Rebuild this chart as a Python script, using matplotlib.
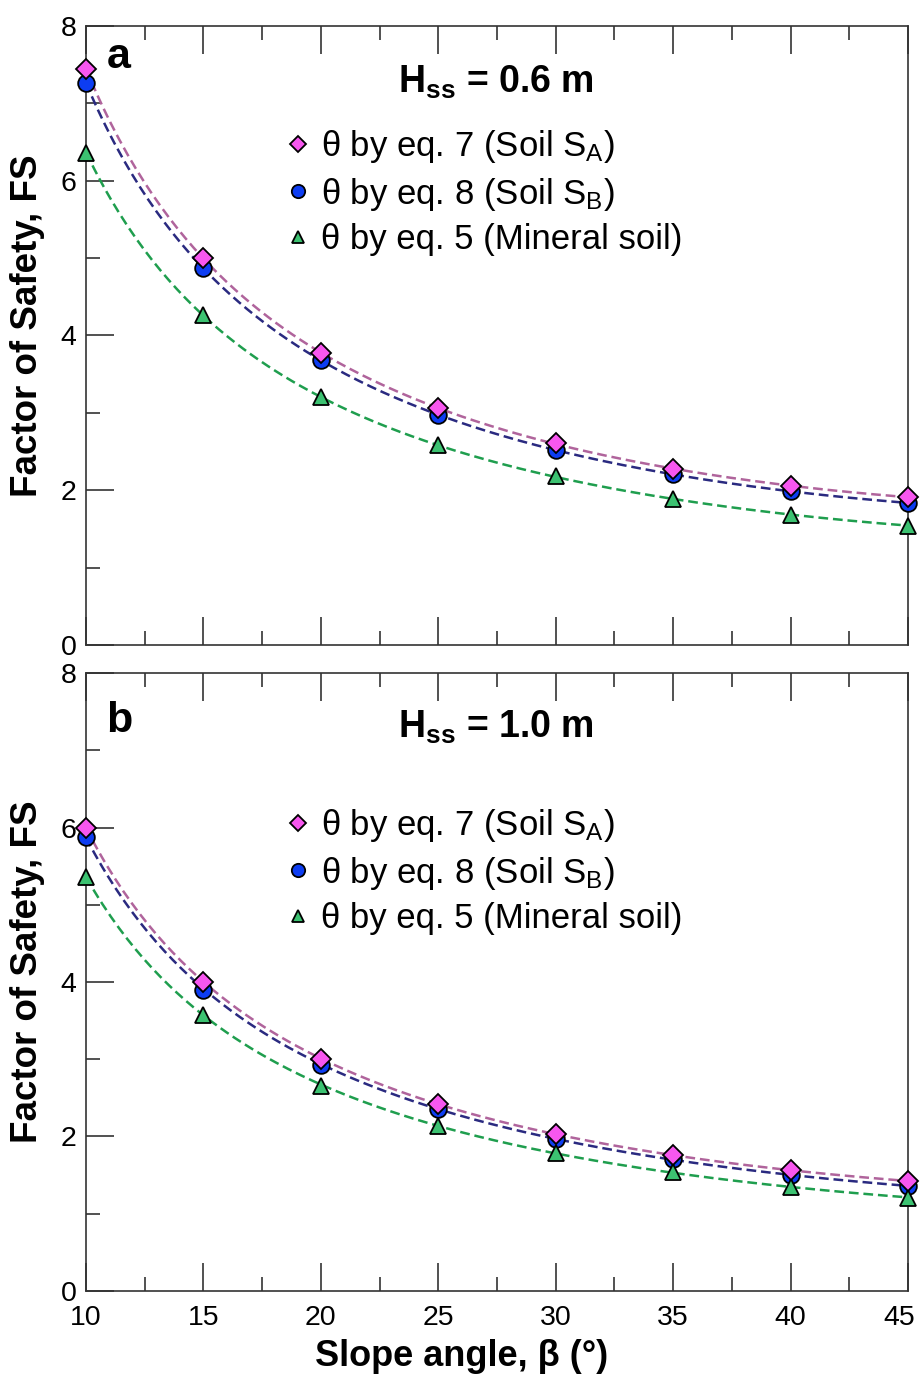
import numpy as np
import matplotlib
matplotlib.use("Agg")
import matplotlib.pyplot as plt
import matplotlib.transforms as mtransforms

plt.rcParams['font.family'] = ['Liberation Sans', 'DejaVu Sans']
plt.rcParams['mathtext.fontset'] = 'custom'
plt.rcParams['mathtext.rm'] = 'Liberation Sans'
plt.rcParams['mathtext.bf'] = 'Liberation Sans:bold'
plt.rcParams['mathtext.it'] = 'Liberation Sans:italic'
plt.rcParams['lines.scale_dashes'] = False

# slope angle (deg)
slope = [10, 15, 20, 25, 30, 35, 40, 45]

# panel a: Hss = 0.6 m
fs_a_sa = [7.44, 5.00, 3.78, 3.06, 2.61, 2.28, 2.05, 1.91]
fs_a_sb = [7.26, 4.87, 3.68, 2.97, 2.52, 2.21, 1.99, 1.83]
fs_a_min = [6.36, 4.26, 3.21, 2.58, 2.18, 1.89, 1.68, 1.54]

# panel b: Hss = 1.0 m
fs_b_sa = [6.00, 4.00, 3.00, 2.42, 2.03, 1.76, 1.57, 1.42]
fs_b_sb = [5.88, 3.90, 2.93, 2.35, 1.97, 1.71, 1.50, 1.36]
fs_b_min = [5.36, 3.57, 2.66, 2.14, 1.79, 1.54, 1.35, 1.20]

labels = [r"θ by eq. 7 (Soil S$_\mathregular{A}$)",
          r"θ by eq. 8 (Soil S$_\mathregular{B}$)",
          "θ by eq. 5 (Mineral soil)"]
panel_tags = ["a", "b"]
hss_labels = [r"H$_\mathbf{ss}$ = 0.6 m", r"H$_\mathbf{ss}$ = 1.0 m"]

line_cols = ['#b0649c', '#2a2a80', '#1f9e4e']
face_cols = ['#f757ef', '#0d3df2', '#3cc271']
markers = ['D', 'o', '^']
msizes = [10, 12, 11]
zs = [6, 4, 5]


def trend(x, y):
    # infinite-slope style trend: FS = a/tan(b) + c/sin(2b), least squares
    xr = np.radians(np.asarray(x, float))
    A = np.column_stack([1 / np.tan(xr), 1 / np.sin(2 * xr)])
    coef = np.linalg.lstsq(A, np.asarray(y), rcond=None)[0]
    xs = np.linspace(min(x), max(x), 200)
    xsr = np.radians(xs)
    return xs, coef[0] / np.tan(xsr) + coef[1] / np.sin(2 * xsr)


fig = plt.figure(figsize=(9.21, 13.8), dpi=100)
ax_a = fig.add_axes([0.0934, 0.5326, 0.8925, 0.4486])
ax_b = fig.add_axes([0.0934, 0.0645, 0.8925, 0.4478])

panels = [(ax_a, [fs_a_sa, fs_a_sb, fs_a_min]),
          (ax_b, [fs_b_sa, fs_b_sb, fs_b_min])]

tag_y = [0.932, 0.905]
hss_y = [0.892, 0.896]
leg_y = [0.835, 0.783]

for k, (ax, series) in enumerate(panels):
    handles = []
    for i, ys in enumerate(series):
        xs, yf = trend(slope, ys)
        ax.plot(xs, yf, color=line_cols[i], lw=1.8, dashes=(7, 3.5), zorder=2)
        h, = ax.plot(slope, ys, ls='none', marker=markers[i], ms=msizes[i],
                     mfc=face_cols[i], mec='black', mew=1.3, clip_on=False,
                     zorder=zs[i], label=labels[i])
        handles.append(h)

    ax.set_xlim(10, 45)
    ax.set_ylim(0, 8)
    ax.set_xticks(np.arange(10, 46, 5))
    ax.set_xticks(np.arange(12.5, 45, 5), minor=True)
    ax.set_yticks(np.arange(0, 9, 2))
    ax.set_yticks(np.arange(1, 8, 2), minor=True)
    ax.tick_params(which='both', direction='in', top=True, right=False,
                   width=1.2, color='#333333', labelsize=20.5, pad=7)
    ax.tick_params(axis='x', which='major', pad=10)
    ax.tick_params(which='major', length=20)
    ax.tick_params(which='minor', length=10)
    for sp in ax.spines.values():
        sp.set_color('#333333')
        sp.set_linewidth(1.2)
    ax.set_ylabel("Factor of Safety, FS", fontsize=26.5, fontweight='bold')
    ax.yaxis.set_label_coords(-0.050, 0.516)

    ax.text(0.025, tag_y[k], panel_tags[k], transform=ax.transAxes, fontsize=31,
            fontweight='bold', va='baseline', ha='left')
    ax.text(0.499, hss_y[k], hss_labels[k], transform=ax.transAxes,
            fontsize=27, fontweight='bold', ha='center', va='baseline')

    ax.legend(handles=handles, loc='upper left', bbox_to_anchor=(0.241, leg_y[k]),
              frameon=False, fontsize=25, markerscale=0.8, handlelength=0.8,
              handletextpad=0.25, labelspacing=0.3, borderpad=0, borderaxespad=0)

ax_a.tick_params(labelbottom=False)
ax_b.set_xlabel("Slope angle, β (°)", fontsize=26, fontweight='bold')
ax_b.xaxis.set_label_coords(0.457, -0.078)

# nudge the last x tick label inward so it stays inside the figure
last = ax_b.get_xticklabels()[-1]
last.set_transform(last.get_transform() +
                   mtransforms.ScaledTranslation(-6 / 72, 0, fig.dpi_scale_trans))

fig.savefig("out.png", dpi=100)
